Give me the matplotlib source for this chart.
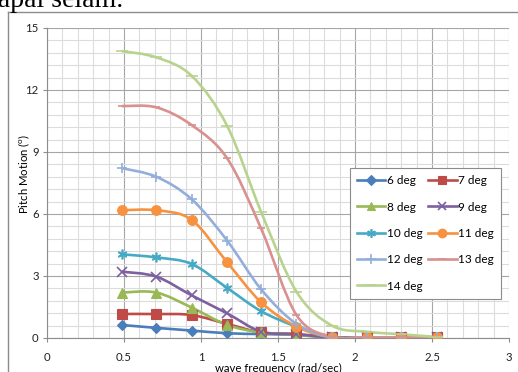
import matplotlib
matplotlib.use("Agg")
import matplotlib.pyplot as plt
import numpy as np
from matplotlib.path import Path
from matplotlib.patches import PathPatch
from matplotlib.lines import Line2D
from matplotlib.ticker import MultipleLocator, FormatStrFormatter

plt.rcParams['font.family'] = ['Lato', 'DejaVu Sans']
plt.rcParams['mathtext.fontset'] = 'custom'
plt.rcParams['mathtext.rm'] = 'Lato'

# wave frequency (rad/sec)
freq = [0.485, 0.71, 0.94, 1.17, 1.39, 1.62, 1.85, 2.08, 2.30, 2.53]

# pitch motion (deg) per wave heading
pitch_6 = [0.63, 0.49, 0.36, 0.23, 0.19, 0.15, 0.03, 0.03, 0.03, 0.03]
pitch_7 = [1.16, 1.16, 1.11, 0.68, 0.27, 0.19, 0.03, 0.03, 0.03, 0.03]
pitch_8 = [2.2, 2.2, 1.47, 0.63, 0.27, 0.15, 0.03, 0.03, 0.03, 0.03]
pitch_9 = [3.21, 2.97, 2.06, 1.19, 0.31, 0.18, 0.03, 0.03, 0.03, 0.03]
pitch_10 = [4.05, 3.9, 3.58, 2.42, 1.3, 0.55, 0.03, 0.03, 0.03, 0.03]
pitch_11 = [6.18, 6.18, 5.71, 3.66, 1.73, 0.55, 0.03, 0.03, 0.03, 0.03]
pitch_12 = [8.22, 7.8, 6.71, 4.71, 2.36, 0.68, 0.03, 0.03, 0.03, 0.03]
pitch_13 = [11.22, 11.16, 10.3, 8.69, 5.3, 1.11, 0.06, 0.03, 0.03, 0.03]
pitch_14 = [13.88, 13.58, 12.68, 10.26, 6.11, 2.24, 0.6, 0.3, 0.18, 0.05]

labels = ['6 deg', '7 deg', '8 deg', '9 deg', '10 deg',
          '11 deg', '12 deg', '13 deg', '14 deg']
series = [pitch_6, pitch_7, pitch_8, pitch_9, pitch_10,
          pitch_11, pitch_12, pitch_13, pitch_14]

colors = ['#4A7EBB', '#BE4B48', '#98B954', '#7D60A0', '#46AAC5',
          '#F69240', '#93AEDA', '#D9908E', '#B8D38E']
markers = ['D', 's', '^', 'x', (6, 2, 0), 'o', '+', '_', '_']
msizes = [5.5, 7, 7, 6.5, 7, 7, 7.5, 6, 8]


def smooth_path(x, y):
    """Excel-like smoothed line through the points (cubic Bezier)."""
    pts = np.column_stack([x, y])
    n = len(pts)
    verts = [pts[0]]
    codes = [Path.MOVETO]
    for i in range(n - 1):
        p0 = pts[max(i - 1, 0)]
        p1 = pts[i]
        p2 = pts[i + 1]
        p3 = pts[min(i + 2, n - 1)]
        c1 = p1 + (p2 - p0) / 6.0
        c2 = p2 - (p3 - p1) / 6.0
        verts += [c1, c2, p2]
        codes += [Path.CURVE4] * 3
    return Path(verts, codes)


fig = plt.figure(figsize=(5.18, 3.72), dpi=100)
ax = fig.add_axes([47 / 518, 1 - 338 / 372, 462 / 518, 310 / 372])

# chart border and the clipped caption text above it
fig.add_artist(Line2D([8 / 518, 8 / 518], [0, 1 - 12 / 372], color='#8c8c8c', lw=1.0))
fig.add_artist(Line2D([8 / 518, 1], [1 - 12 / 372, 1 - 12 / 372], color='#8c8c8c', lw=1.0))
fig.text(-0.03, 1 - 7 / 372, 'kapal selam.', family='Liberation Serif', fontsize=20,
         va='baseline', ha='left')

handles = []
for vals, lab, c, m, ms in zip(series, labels, colors, markers, msizes):
    ax.add_patch(PathPatch(smooth_path(freq, vals), fill=False, edgecolor=c,
                           lw=1.9, zorder=3))
    mew = 1.2 if m in ('x', '+', '_', (6, 2, 0)) else 0.8
    ax.plot(freq, vals, linestyle='none', marker=m, markersize=ms, color=c,
            markeredgecolor=c, markeredgewidth=mew, zorder=4)
    handles.append(Line2D([], [], color=c, lw=1.9, marker=m, markersize=ms * 0.9,
                          markeredgewidth=mew))

ax.set_xlim(0, 3)
ax.set_ylim(0, 15)
ax.xaxis.set_major_locator(MultipleLocator(0.5))
ax.xaxis.set_minor_locator(MultipleLocator(0.1))
ax.yaxis.set_major_locator(MultipleLocator(3))
ax.yaxis.set_minor_locator(MultipleLocator(0.6))
ax.xaxis.set_major_formatter(FormatStrFormatter('%g'))
ax.grid(True, which='major', color='#a6a6a6', lw=0.8)
ax.grid(True, which='minor', color='#dcdcdc', lw=0.8)
ax.set_axisbelow(True)
ax.tick_params(which='major', length=3, width=0.8, color='#8c8c8c',
               labelsize=8.2, pad=3, labelcolor='#222222')
ax.tick_params(which='minor', length=0)
ax.tick_params(axis='x', pad=7)
for side in ['top', 'right']:
    ax.spines[side].set_visible(False)
for side in ['left', 'bottom']:
    ax.spines[side].set_color('#8c8c8c')
    ax.spines[side].set_linewidth(0.8)

ax.set_xlabel('wave frequency (rad/sec)', fontsize=8.2)
ax.xaxis.set_label_coords(0.5, -0.079)
ax.set_ylabel(r'Pitch Motion ($^{\mathrm{o}}$)', fontsize=8.2)
ax.yaxis.set_label_coords(-0.033, 0.53)

# legend filled row by row like the original (6,7 / 8,9 / ...)
order = [0, 2, 4, 6, 8, 1, 3, 5, 7]
leg = ax.legend([handles[i] for i in order], [labels[i] for i in order],
                ncol=2, loc='upper left',
                bbox_to_anchor=(0.656, 0.548), borderaxespad=0,
                fontsize=8.5, handlelength=2.4, handletextpad=0.1,
                labelspacing=1.3, columnspacing=0.5, borderpad=0.6,
                fancybox=False, framealpha=1)
leg.get_frame().set_edgecolor('#8c8c8c')
leg.get_frame().set_linewidth(0.8)

fig.savefig('out.png', dpi=100)
